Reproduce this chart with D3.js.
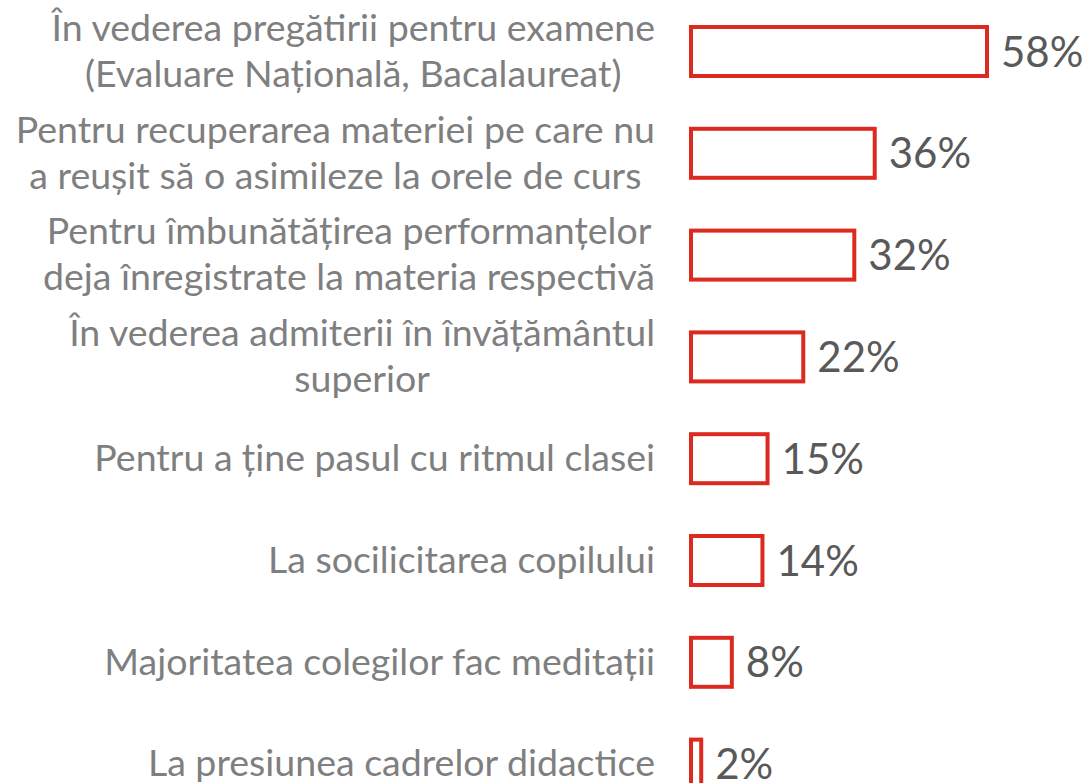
<!DOCTYPE html>
<html>
<head>
<meta charset="utf-8">
<script src="https://cdn.jsdelivr.net/npm/d3@7"></script>
<style>
  body { margin: 0; background: #fff; }
  svg text { font-family: Lato, "Open Sans", sans-serif; }
</style>
</head>
<body>
<div class="chart"></div>
<script>
// data
var categories = [
    ["În vederea pregătirii pentru examene", "(Evaluare Națională, Bacalaureat)"],
    ["Pentru recuperarea materiei pe care nu", "a reușit să o asimileze la orele de curs"],
    ["Pentru îmbunătățirea performanțelor", "deja înregistrate la materia respectivă"],
    ["În vederea admiterii în învățământul", "superior"],
    ["Pentru a ține pasul cu ritmul clasei"],
    ["La socilicitarea copilului"],
    ["Majoritatea colegilor fac meditații"],
    ["La presiunea cadrelor didactice"]
];
var values = [58, 36, 32, 22, 15, 14, 8, 2];

var width = 1092, height = 783;

var svg = d3.select("div.chart")
    .append("svg")
    .attr("width", width)
    .attr("height", height);

var idx = d3.range(categories.length);

// scales
var x = d3.scaleLinear()
    .domain([0, 58])
    .range([691, 987]);

var y = d3.scalePoint()
    .domain(idx)
    .range([0.6, 815])
    .padding(0.5);

var barH = 49;

// bars
svg.selectAll("rect.bar")
    .data(idx)
    .enter().append("rect")
    .attr("class", "bar")
    .attr("x", x(0))
    .attr("y", function(i) { return y(i) - barH / 2; })
    .attr("width", function(i) { return x(values[i]) - x(0); })
    .attr("height", barH)
    .style("fill", "#fff")
    .style("stroke", "#dc2a21")
    .style("stroke-width", 4);

// value labels
svg.selectAll("text.value")
    .data(idx)
    .enter().append("text")
    .attr("class", "value")
    .attr("x", function(i) { return x(values[i]) + 14; })
    .attr("y", function(i) { return y(i); })
    .attr("dy", "0.36em")
    .style("font-size", "42px")
    .style("fill", "#595959")
    .text(function(i) { return values[i] + "%"; });

// category labels: block right aligned at 655, lines centred inside block
var lineH = 46, labelRight = 655;
var labels = svg.selectAll("text.label")
    .data(idx)
    .enter().append("text")
    .attr("class", "label")
    .attr("text-anchor", "middle")
    .style("font-size", "37.5px")
    .style("fill", "#7f7f7f");

labels.each(function(i) {
    var lines = categories[i];
    var t = d3.select(this);
    lines.forEach(function(line, k) {
        t.append("tspan")
            .attr("y", y(i) + (k - (lines.length - 1) / 2) * lineH)
            .attr("dy", "0.33em")
            .text(line);
    });
    var maxW = 0;
    t.selectAll("tspan").each(function() {
        maxW = Math.max(maxW, this.getComputedTextLength());
    });
    t.selectAll("tspan").attr("x", labelRight - maxW / 2);
});
</script>
</body>
</html>
